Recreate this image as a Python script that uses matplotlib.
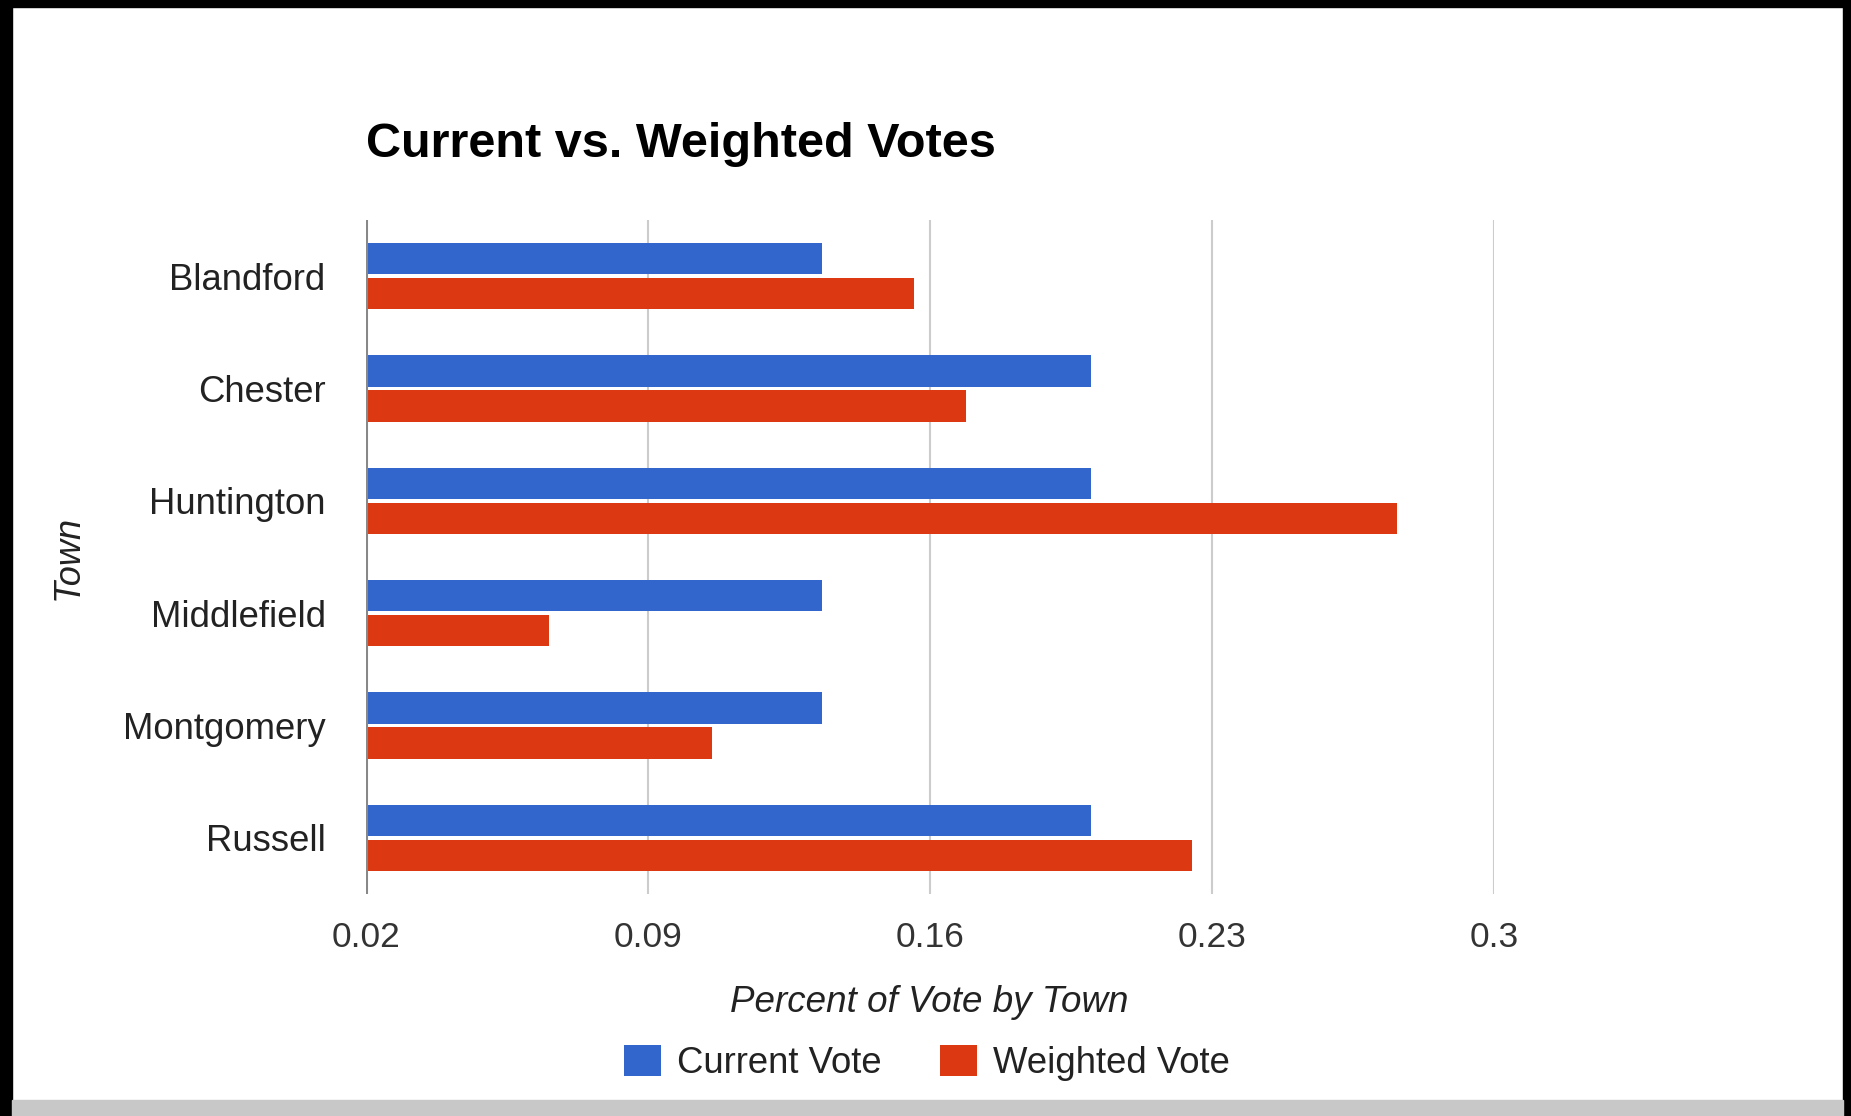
import matplotlib
matplotlib.use("Agg")
import matplotlib.pyplot as plt
from matplotlib.patches import Patch, Rectangle
import numpy as np

plt.rcParams['font.family'] = ['Liberation Sans', 'DejaVu Sans']

towns = ["Blandford", "Chester", "Huntington", "Middlefield", "Montgomery", "Russell"]
current_vote = [0.1333, 0.2, 0.2, 0.1333, 0.1333, 0.2]
weighted_vote = [0.156, 0.169, 0.276, 0.0655, 0.106, 0.225]
x_ticks = [0.02, 0.09, 0.16, 0.23, 0.3]
x_tick_labels = ["0.02", "0.09", "0.16", "0.23", "0.3"]
series_names = ["Current Vote", "Weighted Vote"]

W, H = 1851, 1116
fig = plt.figure(figsize=(W / 100, H / 100), dpi=100)
fig.patch.set_facecolor("white")

ax = fig.add_axes([366 / W, 1 - 894 / H, (1494 - 366) / W, (894 - 220) / H])
blue = "#3366cc"
red = "#dc3912"
base = 0.02
y = np.arange(len(towns))
bh = 0.28
off = 0.155
cur_w = [v - base for v in current_vote]
wei_w = [v - base for v in weighted_vote]
ax.barh(y - off, cur_w, height=bh, left=base, color=blue, zorder=3)
ax.barh(y + off, wei_w, height=bh, left=base, color=red, zorder=3)

ax.set_xlim(0.02, 0.3)
ax.set_ylim(len(towns) - 0.5, -0.5)
for t in x_ticks[1:]:
    ax.axvline(t, color="#cccccc", lw=1.5, zorder=1)
ax.axvline(x_ticks[0], color="#888888", lw=2.2, zorder=4)

ax.set_xticks(x_ticks)
ax.set_xticklabels(x_tick_labels, fontsize=25.5, color="#333333")
ax.set_yticks(y)
ax.set_yticklabels(towns, fontsize=26.3, color="#222222")
ax.tick_params(axis="both", length=0)
ax.tick_params(axis="x", pad=19.5)
ax.tick_params(axis="y", pad=29)
for s in ax.spines.values():
    s.set_visible(False)

fig.text(929 / W, 1 - 1003 / H, "Percent of Vote by Town", fontsize=26.5, style="italic",
         color="#222222", ha="center", va="center")
fig.text(68 / W, 1 - 557 / H, "Town", fontsize=26, style="italic", rotation=90,
         color="#222222", ha="center", va="center")
fig.text(366 / W, 1 - 157 / H, "Current vs. Weighted Votes", fontsize=35,
         fontweight="bold", color="#000000", ha="left", va="baseline")

handles = [Patch(facecolor=blue), Patch(facecolor=red)]
fig.legend(handles, series_names, loc="center", bbox_to_anchor=(927 / W, 1 - 1063 / H),
           ncol=2, frameon=False, fontsize=26.3, handlelength=1.0, handleheight=0.95,
           handletextpad=0.45, columnspacing=1.6, labelcolor="#222222")

# screenshot frame
fig.patches.append(Rectangle((0, 1 - 7 / H), 1, 7 / H, transform=fig.transFigure, color="black"))
fig.patches.append(Rectangle((0, 0), 12 / W, 1, transform=fig.transFigure, color="black"))
fig.patches.append(Rectangle((1843 / W, 0), 8 / W, 1, transform=fig.transFigure, color="black"))
fig.patches.append(Rectangle((12 / W, 0), 1831 / W, 16 / H, transform=fig.transFigure, color="#c8c8c8"))

fig.savefig("out.png", dpi=100)
